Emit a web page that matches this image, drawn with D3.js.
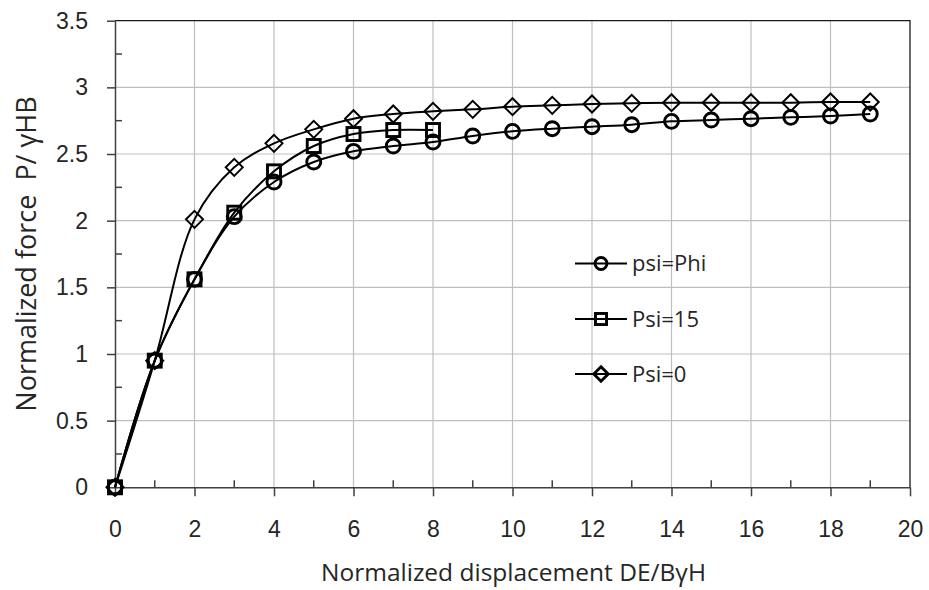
<!DOCTYPE html>
<html>
<head>
  <meta charset="utf-8">
  <title>Normalized force vs normalized displacement</title>
  <style>
    body { margin: 0; background: #fff; }
    svg { display: block; font-family: "Open Sans", Lato, sans-serif; }
    .grid line { stroke: #bfbfbf; stroke-width: 1.2; }
    .axis path, .axis line { stroke: #404040; stroke-width: 1.5; fill: none; }
    .axis text { font-size: 23px; fill: #262626; }
    .series path { fill: none; stroke: #000; stroke-width: 2; }
    .marker { fill: none; stroke: #000; stroke-width: 2.9; }
    .title { fill: #262626; white-space: pre; }
    .legend text { font-size: 22px; fill: #262626; }
  </style>
  <script src="https://d3js.org/d3.v7.min.js"></script>
</head>
<body>
  <div id="chart"></div>
  <script>
    // data
    var xValues = [0, 1, 2, 3, 4, 5, 6, 7, 8, 9, 10, 11, 12, 13, 14, 15, 16, 17, 18, 19];
    var psiPhi = [0, 0.95, 1.56, 2.03, 2.29, 2.44, 2.52, 2.56, 2.59, 2.635, 2.67, 2.69, 2.705, 2.72, 2.745, 2.755, 2.765, 2.775, 2.785, 2.80];
    var psi15 = [0, 0.95, 1.56, 2.06, 2.37, 2.56, 2.65, 2.68, 2.68];
    var psi0 = [0, 0.95, 2.01, 2.40, 2.58, 2.685, 2.765, 2.80, 2.82, 2.835, 2.855, 2.865, 2.875, 2.88, 2.885, 2.885, 2.885, 2.885, 2.89, 2.89];
    var seriesNames = ["psi=Phi", "Psi=15", "Psi=0"];
    var markerTypes = ["circle", "square", "diamond"];
    var xTicks = [0, 2, 4, 6, 8, 10, 12, 14, 16, 18, 20];
    var yTicks = [0, 0.5, 1, 1.5, 2, 2.5, 3, 3.5];

    var W = 929, H = 590;
    var plotL = 115, plotR = 910, plotT = 20.7, plotB = 487.3;

    var svg = d3.select("#chart").append("svg")
      .attr("width", W)
      .attr("height", H);

    var x = d3.scaleLinear().domain([0, 20]).range([plotL, plotR]);
    var y = d3.scaleLinear().domain([0, 3.5]).range([plotB, plotT]);

    // gridlines
    var grid = svg.append("g").attr("class", "grid");
    grid.selectAll(".gx").data(xTicks.slice(1, -1)).enter().append("line")
      .attr("x1", d => x(d)).attr("x2", d => x(d))
      .attr("y1", plotT).attr("y2", plotB);
    grid.selectAll(".gy").data(yTicks.slice(1, -1)).enter().append("line")
      .attr("x1", plotL).attr("x2", plotR)
      .attr("y1", d => y(d)).attr("y2", d => y(d));

    // plot border (top and right)
    svg.append("path")
      .attr("d", "M" + plotL + "," + plotT + "H" + plotR + "V" + plotB)
      .attr("fill", "none").attr("stroke", "#1a1a1a").attr("stroke-width", 1.3);

    // minor ticks (inside)
    var minorX = d3.range(1, 20, 2);
    var minorY = d3.range(0.25, 3.5, 0.5);
    svg.append("g").attr("class", "axis").selectAll("line").data(minorX).enter().append("line")
      .attr("x1", d => x(d)).attr("x2", d => x(d))
      .attr("y1", plotB).attr("y2", plotB - 7);
    svg.append("g").attr("class", "axis").selectAll("line").data(minorY).enter().append("line")
      .attr("x1", plotL).attr("x2", plotL + 7)
      .attr("y1", d => y(d)).attr("y2", d => y(d));

    // axes
    var xAxis = svg.append("g")
      .attr("class", "axis")
      .attr("transform", "translate(0," + plotB + ")")
      .call(d3.axisBottom(x).tickValues(xTicks).tickSize(9).tickSizeOuter(0).tickFormat(d3.format("d")));
    xAxis.selectAll("text").attr("y", 50).attr("dy", 0);

    svg.append("g")
      .attr("class", "axis")
      .attr("transform", "translate(" + plotL + ",0)")
      .call(d3.axisLeft(y).tickValues(yTicks).tickSize(8).tickSizeOuter(0).tickPadding(19).tickFormat(d => String(d)));

    // series
    var line = d3.line()
      .x(d => x(d[0]))
      .y(d => y(d[1]))
      .curve(d3.curveCatmullRom.alpha(0.5));

    function pairs(vals) {
      return vals.map((v, i) => [xValues[i], v]);
    }
    var allSeries = [pairs(psiPhi), pairs(psi15), pairs(psi0)];

    function drawMarker(g, type, cx, cy, scale) {
      scale = scale || 1;
      if (type === "circle") {
        g.append("circle").attr("class", "marker")
          .attr("cx", cx).attr("cy", cy).attr("r", 7 * scale);
      } else if (type === "square") {
        var s = 6.5 * scale;
        g.append("rect").attr("class", "marker")
          .attr("x", cx - s).attr("y", cy - s).attr("width", 2 * s).attr("height", 2 * s);
      } else {
        var r = 8.5 * scale;
        g.append("path").attr("class", "marker")
          .attr("d", "M" + cx + "," + (cy - r) + "L" + (cx + r) + "," + cy + "L" + cx + "," + (cy + r) + "L" + (cx - r) + "," + cy + "Z");
      }
    }

    allSeries.forEach(function(data, i) {
      var g = svg.append("g").attr("class", "series");
      g.append("path").datum(data).attr("d", line);
      data.forEach(function(d) {
        drawMarker(g, markerTypes[i], x(d[0]), y(d[1]));
      });
    });

    // legend
    var legend = svg.append("g").attr("class", "legend");
    var legendY = [263.5, 319, 374];
    seriesNames.forEach(function(name, i) {
      var ly = legendY[i];
      legend.append("line")
        .attr("x1", 575).attr("x2", 627).attr("y1", ly).attr("y2", ly)
        .attr("stroke", "#000").attr("stroke-width", 2);
      var mg = legend.append("g");
      drawMarker(mg, markerTypes[i], 601, ly, 0.85);
      mg.selectAll(".marker").attr("fill", "#fff");
      legend.append("text")
        .attr("x", 632).attr("y", ly).attr("dy", "0.36em")
        .text(name);
    });

    // axis titles
    svg.append("text")
      .attr("class", "title")
      .attr("x", (plotL + plotR) / 2 + 1)
      .attr("y", 581)
      .attr("text-anchor", "middle")
      .style("font-size", "24.5px")
      .text("Normalized displacement DE/B\u03B3H");

    svg.append("text")
      .attr("class", "title")
      .attr("transform", "translate(36,254) rotate(-90)")
      .attr("text-anchor", "middle")
      .style("font-size", "27px")
      .text("Normalized force  P/ \u03B3HB");
  </script>
</body>
</html>
